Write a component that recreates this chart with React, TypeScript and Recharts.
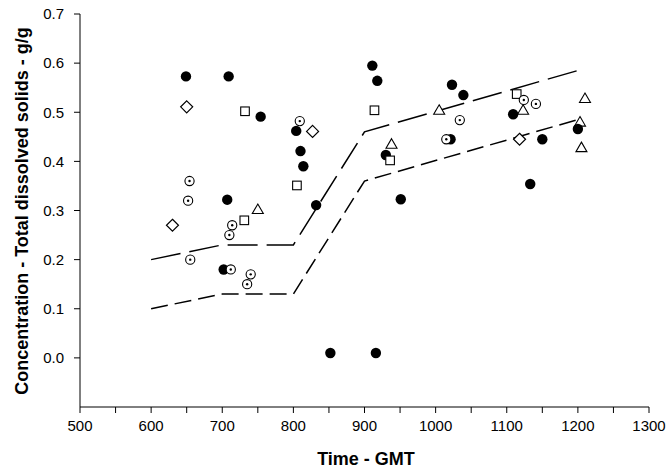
import React from 'react';
import { ScatterChart, Scatter, XAxis, YAxis } from 'recharts';

type P = { x: number; y: number };

const xTicks = [500, 550, 600, 650, 700, 750, 800, 850, 900, 950, 1000, 1050, 1100, 1150, 1200, 1250, 1300];
const yTicks = [0, 0.1, 0.2, 0.3, 0.4, 0.5, 0.6, 0.7];

const filledCircles: P[] = [
  { x: 649, y: 0.573 }, { x: 709, y: 0.573 }, { x: 754, y: 0.491 }, { x: 804, y: 0.462 },
  { x: 810, y: 0.421 }, { x: 814, y: 0.390 }, { x: 707, y: 0.322 }, { x: 702, y: 0.18 },
  { x: 832, y: 0.311 }, { x: 911, y: 0.595 }, { x: 918, y: 0.564 }, { x: 1023, y: 0.556 },
  { x: 1039, y: 0.535 }, { x: 930, y: 0.413 }, { x: 1021, y: 0.445 }, { x: 951, y: 0.323 },
  { x: 852, y: 0.01 }, { x: 916, y: 0.01 }, { x: 1109, y: 0.496 }, { x: 1200, y: 0.466 },
  { x: 1150, y: 0.445 }, { x: 1133, y: 0.354 },
];

const dottedCircles: P[] = [
  { x: 809, y: 0.482 }, { x: 654, y: 0.36 }, { x: 652, y: 0.32 }, { x: 714, y: 0.27 },
  { x: 710, y: 0.25 }, { x: 655, y: 0.2 }, { x: 712, y: 0.18 }, { x: 740, y: 0.17 },
  { x: 735, y: 0.15 }, { x: 1034, y: 0.484 }, { x: 1015, y: 0.445 }, { x: 1124, y: 0.525 },
  { x: 1141, y: 0.517 },
];

const squares: P[] = [
  { x: 732, y: 0.502 }, { x: 805, y: 0.351 }, { x: 731, y: 0.28 }, { x: 914, y: 0.504 },
  { x: 936, y: 0.402 }, { x: 1114, y: 0.537 },
];

const diamonds: P[] = [
  { x: 650, y: 0.511 }, { x: 630, y: 0.27 }, { x: 827, y: 0.461 }, { x: 1118, y: 0.445 },
];

const triangles: P[] = [
  { x: 750, y: 0.302 }, { x: 1005, y: 0.504 }, { x: 938, y: 0.435 }, { x: 1123, y: 0.504 },
  { x: 1210, y: 0.528 }, { x: 1203, y: 0.48 }, { x: 1205, y: 0.428 },
];

const upperLine: P[] = [
  { x: 600, y: 0.2 }, { x: 700, y: 0.23 }, { x: 800, y: 0.23 }, { x: 900, y: 0.46 }, { x: 1200, y: 0.585 },
];

const lowerLine: P[] = [
  { x: 600, y: 0.1 }, { x: 700, y: 0.13 }, { x: 800, y: 0.13 }, { x: 900, y: 0.36 }, { x: 1200, y: 0.485 },
];

const FONT = '"Liberation Sans", Arial, sans-serif';

const FilledShape = (p: any) => <circle cx={p.cx} cy={p.cy} r={5.2} fill="#000" />;
const DottedShape = (p: any) => (
  <g>
    <circle cx={p.cx} cy={p.cy} r={4.6} fill="#fff" stroke="#000" strokeWidth={1.1} />
    <circle cx={p.cx} cy={p.cy} r={1.2} fill="#000" />
  </g>
);
const SquareShape = (p: any) => (
  <rect x={p.cx - 4.3} y={p.cy - 4.3} width={8.6} height={8.6} fill="#fff" stroke="#000" strokeWidth={1.1} />
);
const DiamondShape = (p: any) => (
  <path
    d={`M${p.cx},${p.cy - 6} L${p.cx + 6},${p.cy} L${p.cx},${p.cy + 6} L${p.cx - 6},${p.cy} Z`}
    fill="#fff" stroke="#000" strokeWidth={1.2}
  />
);
const TriangleShape = (p: any) => (
  <path
    d={`M${p.cx},${p.cy - 5.5} L${p.cx + 5.5},${p.cy + 4} L${p.cx - 5.5},${p.cy + 4} Z`}
    fill="#fff" stroke="#000" strokeWidth={1.1}
  />
);
const NoShape = () => <g />;

const yLabel = () => (
  <text
    x={22}
    y={211}
    transform="rotate(-90 22 211)"
    textAnchor="middle"
    dominantBaseline="central"
    fontFamily={FONT}
    fontWeight="bold"
    fontSize={18}
    fill="#000"
  >
    Concentration - Total dissolved solids - g/g
  </text>
);

const xLabel = () => (
  <text
    x={366}
    y={459}
    textAnchor="middle"
    dominantBaseline="central"
    fontFamily={FONT}
    fontWeight="bold"
    fontSize={18}
    fill="#000"
  >
    Time - GMT
  </text>
);

export default function App() {
  return (
    <div style={{ position: 'absolute', left: 0, top: 0, width: 669, height: 470, background: '#fff' }}>
      <ScatterChart width={669} height={470} margin={{ top: 14, right: 20, left: 0, bottom: 0 }}>
        <XAxis
          type="number"
          dataKey="x"
          domain={[500, 1300]}
          ticks={xTicks}
          interval={0}
          tickFormatter={(v: number) => (v % 100 === 0 ? String(v) : '')}
          height={63}
          tickSize={6}
          tickMargin={7}
          stroke="#000"
          tick={{ fill: '#000', fontSize: 15, fontFamily: FONT }}
          axisLine={{ stroke: '#000', strokeWidth: 1 }}
          tickLine={{ stroke: '#000' }}
          label={xLabel}
          allowDataOverflow
        />
        <XAxis
          xAxisId="top"
          orientation="top"
          type="number"
          domain={[500, 1300]}
          height={0}
          tick={false}
          tickLine={false}
          axisLine={{ stroke: '#000', strokeWidth: 1 }}
        />
        <YAxis
          type="number"
          dataKey="y"
          domain={[-0.1, 0.7]}
          ticks={yTicks}
          interval={0}
          tickFormatter={(v: number) => v.toFixed(1)}
          width={80}
          tickSize={6}
          tickMargin={10}
          tick={{ fill: '#000', fontSize: 15, fontFamily: FONT }}
          axisLine={{ stroke: '#000', strokeWidth: 1 }}
          tickLine={{ stroke: '#000' }}
          label={yLabel}
          allowDataOverflow
        />
        <YAxis
          yAxisId="right"
          orientation="right"
          type="number"
          domain={[-0.1, 0.7]}
          width={0}
          tick={false}
          tickLine={false}
          axisLine={{ stroke: '#000', strokeWidth: 1 }}
        />
        <Scatter
          data={upperLine}
          fill="#000"
          line={{ stroke: '#000', strokeWidth: 1.5, strokeDasharray: '30 9', fill: 'none' }}
          shape={NoShape}
          isAnimationActive={false}
        />
        <Scatter
          data={lowerLine}
          fill="#000"
          line={{ stroke: '#000', strokeWidth: 1.5, strokeDasharray: '17 7', fill: 'none' }}
          shape={NoShape}
          isAnimationActive={false}
        />
        <Scatter data={triangles} shape={TriangleShape} isAnimationActive={false} />
        <Scatter data={filledCircles} shape={FilledShape} isAnimationActive={false} />
        <Scatter data={squares} shape={SquareShape} isAnimationActive={false} />
        <Scatter data={diamonds} shape={DiamondShape} isAnimationActive={false} />
        <Scatter data={dottedCircles} shape={DottedShape} isAnimationActive={false} />
      </ScatterChart>
    </div>
  );
}
